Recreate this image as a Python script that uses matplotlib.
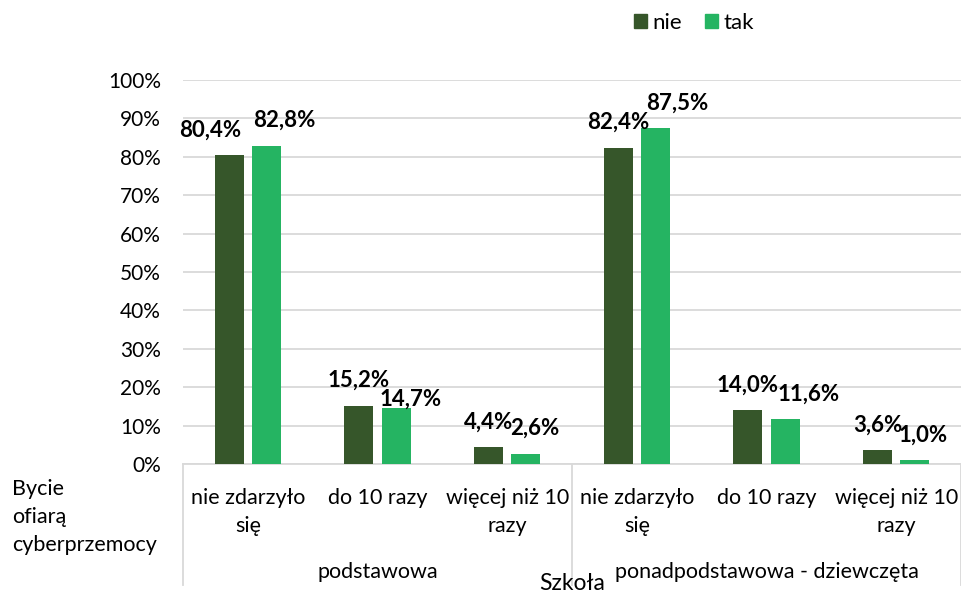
import numpy as np
import matplotlib
matplotlib.use('Agg')
import matplotlib.pyplot as plt
from matplotlib.patches import Patch

plt.rcParams['font.family'] = ['Lato', 'DejaVu Sans']

# data
categories = ['nie zdarzyło\nsię', 'do 10 razy', 'więcej niż 10\nrazy',
              'nie zdarzyło\nsię', 'do 10 razy', 'więcej niż 10\nrazy']
groups = ['podstawowa', 'ponadpodstawowa - dziewczęta']
series = ['nie', 'tak']
nie_vals = [80.4, 15.2, 4.4, 82.4, 14.0, 3.6]
tak_vals = [82.8, 14.7, 2.6, 87.5, 11.6, 1.0]

dark = '#36562A'
light = '#25B462'
grid_c = '#D9D9D9'

# label offsets in pixels (Excel moved some labels to avoid overlap)
nie_dx = [-19, 0, 0, 0, 0, 0]
tak_dx = [18, 15, 9, 22, 24, 8]
nie_dy = [25, 25, 25, 25, 25, 25]
tak_dy = [26, 8, 26, 25, 25, 25]

W, H = 961, 595
fig = plt.figure(figsize=(W / 100, H / 100), dpi=100)
ax = fig.add_axes([183 / W, 1 - 464 / H, 778 / W, 384 / H])

x = np.arange(len(categories))
bw = 0.224
off = 0.143
ax.bar(x - off, nie_vals, bw, color=dark, zorder=3)
ax.bar(x + off, tak_vals, bw, color=light, zorder=3)

def fmt(v):
    return f'{v:.1f}%'.replace('.', ',')

for i in range(len(x)):
    ax.annotate(fmt(nie_vals[i]), (x[i] - off, nie_vals[i]), xytext=(nie_dx[i], nie_dy[i]),
                textcoords='offset pixels', ha='center', va='center',
                fontsize=16, fontweight='bold', zorder=4)
    ax.annotate(fmt(tak_vals[i]), (x[i] + off, tak_vals[i]), xytext=(tak_dx[i], tak_dy[i]),
                textcoords='offset pixels', ha='center', va='center',
                fontsize=16, fontweight='bold', zorder=4)

ax.set_xlim(-0.5, len(x) - 0.5)
ax.set_ylim(0, 100)
ax.set_yticks(np.arange(0, 101, 10))
ax.set_yticklabels([f'{v}%' for v in range(0, 101, 10)])
ax.yaxis.grid(True, color=grid_c, lw=1.3, zorder=0)
ax.set_axisbelow(True)
for s in ['top', 'right', 'left']:
    ax.spines[s].set_visible(False)
ax.spines['bottom'].set_color(grid_c)
ax.spines['bottom'].set_linewidth(1.3)
ax.tick_params(axis='y', length=0, pad=16, labelsize=15)
ax.set_xticks(x)
ax.set_xticklabels(categories)
ax.tick_params(axis='x', length=0, pad=17, labelsize=15.5)
for t in ax.get_xticklabels():
    t.set_linespacing(1.55)

tr = ax.get_xaxis_transform()
for xs in [-0.5, 2.5, 5.5]:
    ax.plot([xs, xs], [0, -0.315], color=grid_c, lw=1.3, transform=tr, clip_on=False)

ax.text(1, -0.281, groups[0], transform=tr, ha='center', va='center', fontsize=15.5)
ax.text(4, -0.281, groups[1], transform=tr, ha='center', va='center', fontsize=15.5)
ax.text(2.5, -0.312, 'Szkoła', transform=tr, ha='center', va='center', fontsize=16.5)

fig.text(12 / W, 1 - 517 / H, 'Bycie\nofiarą\ncyberprzemocy', ha='left', va='center',
         fontsize=15.5, linespacing=1.5)

handles = [Patch(color=dark, label=series[0]), Patch(color=light, label=series[1])]
fig.legend(handles=handles, loc='center', bbox_to_anchor=(694 / W, 1 - 23 / H), ncol=2,
           frameon=False, fontsize=16, handlelength=0.6, handleheight=0.6,
           handletextpad=0.25, columnspacing=1.0)

fig.savefig('out.png', dpi=100)
